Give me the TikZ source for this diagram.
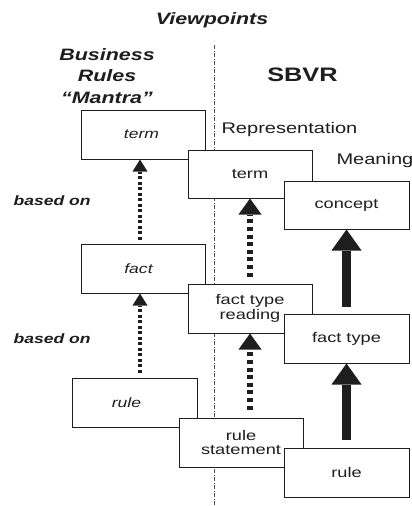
\documentclass[tikz,border=0pt]{standalone}
\usepackage{fontspec}
\setmainfont{Liberation Sans}[FakeStretch=1.3]
\usetikzlibrary{arrows.meta}

\definecolor{ink}{HTML}{1E1E1E}

\tikzset{
  box/.style={draw=ink, line width=1pt, fill=white, inner sep=0pt,
    minimum width=124pt, minimum height=49pt, align=center, text=ink,
    font=\fontsize{14}{14.5}\selectfont},
  lbox/.style={box, font=\fontsize{13.5}{14}\selectfont\itshape},
  heading/.style={text=ink, align=center,
    font=\fontsize{16.5}{19}\selectfont\bfseries\itshape},
  sidenote/.style={text=ink, anchor=base west,
    font=\fontsize{13.5}{14}\selectfont\bfseries\itshape},
  layer/.style={text=ink, anchor=base west, font=\fontsize{15.4}{17}\selectfont},
  dotarrow/.style={draw=ink, line width=3.5pt, dash pattern=on 3pt off 2.5pt,
    -{Triangle[length=12pt,width=15pt,line width=0pt]}},
  dasharrow/.style={draw=ink, line width=6pt, dash pattern=on 4pt off 3.6pt,
    -{Triangle[length=16pt,width=23pt,line width=0pt]}},
  solidarrow/.style={draw=ink, line width=9pt,
    -{Triangle[length=21pt,width=30pt,line width=0pt]}},
  divider/.style={draw=black!70, line width=0.7pt,
    dash pattern=on 4pt off 1.5pt on 1pt off 1.5pt}
}

\begin{document}
\begin{tikzpicture}[x=1pt, y=-1pt]
  \useasboundingbox[fill=white] (0,0) rectangle (412,506);

  % dash-dot divider between the two viewpoints
  \coordinate (vtop) at (214,45);
  \coordinate (vbot) at (214,506);
  \draw[divider] (vtop) -- (vbot);

  % headings
  \node[heading, anchor=base] (vp) at (212,24) {Viewpoints};
  \node[heading] (brm) at (107,76) {Business\\[2.5pt]Rules\\[2.5pt]“Mantra”};
  \node[text=ink, font=\fontsize{19.5}{21}\selectfont\bfseries] (sbvr) at (302.5,75) {SBVR};
  \node[layer] (rep) at (218,133) {Representation};
  \node[layer] (mean) at (333,164) {Meaning};
  \node[sidenote] (bo1) at (10,205) {based on};
  \node[sidenote] (bo2) at (10,343) {based on};

  % Business Rules Mantra column
  \node[lbox] (L1) at (143,134.5) {term\hspace{3pt}};
  \node[lbox] (L2) at (143,268.5) {fact\hspace{9pt}};
  \node[lbox, minimum width=125pt] (L3) at (134.5,402.5) {rule\hspace{16pt}};

  % SBVR representation column
  \node[box, minimum height=48pt] (M1) at (250,174) {term};
  \node[box] (M2) at (250,308.5) {fact type\\reading};
  \node[box] (M3) at (241,442.5) {rule\\statement};

  % SBVR meaning column
  \node[box, minimum width=125pt, minimum height=48pt] (R1) at (346.5,205) {concept};
  \node[box, minimum width=125pt] (R2) at (346.5,338.5) {fact type};
  \node[box, minimum width=125pt] (R3) at (346.5,472.5) {rule};

  % "based on" links
  \draw[dotarrow, shorten <=4pt] ([xshift=-3pt]L2.north) -- ([xshift=-3pt]L1.south);
  \draw[dotarrow, shorten <=5pt] ([xshift=-3pt]L2.south |- L3.north) -- ([xshift=-3pt]L2.south);

  % representation links
  \draw[dasharrow, shorten <=7pt] (M2.north) -- (M1.south);
  \draw[dasharrow, shorten <=8pt] (M2.south |- M3.north) -- (M2.south);

  % meaning links
  \draw[solidarrow, shorten <=7pt] (R2.north) -- (R1.south);
  \draw[solidarrow, shorten <=8pt] (R3.north) -- (R2.south);
\end{tikzpicture}
\end{document}
